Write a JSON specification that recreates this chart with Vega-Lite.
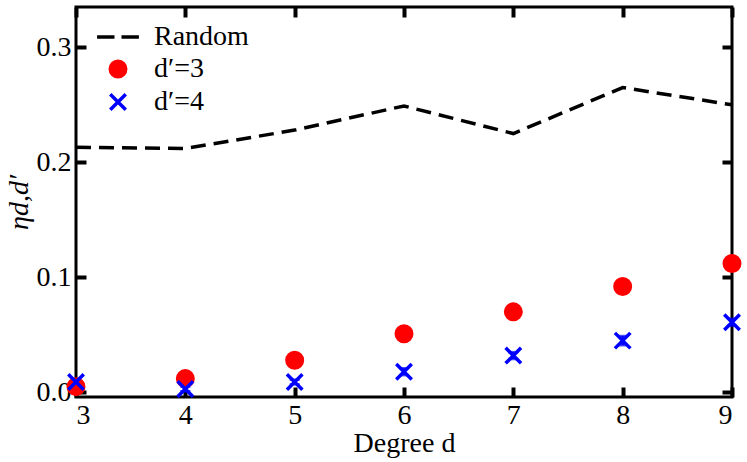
{
  "$schema": "https://vega.github.io/schema/vega-lite/v6.json",
  "width": 656,
  "height": 390,
  "autosize": {"type": "none"},
  "padding": {"left": 76, "top": 7, "right": 15, "bottom": 65},
  "background": "white",
  "config": {
    "view": {"stroke": "black", "strokeWidth": 3},
    "axis": {
      "grid": false,
      "domainColor": "transparent",
      "tickColor": "#000000",
      "tickWidth": 4,
      "labelFont": "Liberation Serif",
      "labelFontSize": 28,
      "labelColor": "black",
      "titleFont": "Liberation Serif",
      "titleFontSize": 28,
      "titleFontWeight": "normal",
      "titleColor": "black"
    },
    "legend": {
      "title": null,
      "orient": "none",
      "legendX": 28,
      "legendY": 16,
      "labelFont": "Liberation Serif",
      "labelFontSize": 28,
      "labelColor": "black",
      "labelOffset": 22,
      "rowPadding": 3,
      "symbolSize": 240,
      "symbolStrokeWidth": 3.5
    }
  },
  "data": {
    "values": [
      {"d": 3, "series": "Random", "eta": 0.213},
      {"d": 4, "series": "Random", "eta": 0.212},
      {"d": 5, "series": "Random", "eta": 0.228},
      {"d": 6, "series": "Random", "eta": 0.249},
      {"d": 7, "series": "Random", "eta": 0.225},
      {"d": 8, "series": "Random", "eta": 0.265},
      {"d": 9, "series": "Random", "eta": 0.25},
      {"d": 3, "series": "d′=3", "eta": 0.005, "lo": 0.003, "hi": 0.007},
      {"d": 4, "series": "d′=3", "eta": 0.012, "lo": 0.01, "hi": 0.014},
      {"d": 5, "series": "d′=3", "eta": 0.028, "lo": 0.026, "hi": 0.03},
      {"d": 6, "series": "d′=3", "eta": 0.051, "lo": 0.045, "hi": 0.054},
      {"d": 7, "series": "d′=3", "eta": 0.07, "lo": 0.067, "hi": 0.073},
      {"d": 8, "series": "d′=3", "eta": 0.092, "lo": 0.089, "hi": 0.095},
      {"d": 9, "series": "d′=3", "eta": 0.112, "lo": 0.109, "hi": 0.115},
      {"d": 3, "series": "d′=4", "eta": 0.009, "lo": 0.007, "hi": 0.011},
      {"d": 4, "series": "d′=4", "eta": 0.003, "lo": 0.001, "hi": 0.005},
      {"d": 5, "series": "d′=4", "eta": 0.009, "lo": 0.007, "hi": 0.011},
      {"d": 6, "series": "d′=4", "eta": 0.018, "lo": 0.015, "hi": 0.021},
      {"d": 7, "series": "d′=4", "eta": 0.032, "lo": 0.029, "hi": 0.035},
      {"d": 8, "series": "d′=4", "eta": 0.045, "lo": 0.041, "hi": 0.049},
      {"d": 9, "series": "d′=4", "eta": 0.061, "lo": 0.058, "hi": 0.064}
    ]
  },
  "layer": [
    {
      "transform": [{"filter": "datum.series === 'Random'"}],
      "mark": {"type": "line", "color": "black", "strokeWidth": 3.5, "strokeDash": [15, 8]},
      "encoding": {
        "x": {
          "field": "d", "type": "quantitative",
          "scale": {"domain": [3, 9], "nice": false, "zero": false},
          "axis": {"orient": "top", "labels": false, "title": null, "values": [3, 4, 5, 6, 7, 8, 9], "offset": -10, "tickSize": 10}
        },
        "y": {
          "field": "eta", "type": "quantitative",
          "scale": {"domain": [-0.004, 0.335], "nice": false, "zero": false},
          "axis": {"orient": "right", "labels": false, "title": null, "values": [0, 0.1, 0.2, 0.3], "offset": -10, "tickSize": 10}
        }
      }
    },
    {
      "transform": [{"filter": "datum.series !== 'Random'"}],
      "mark": {"type": "errorbar", "ticks": {"size": 10}, "thickness": 2.5},
      "encoding": {
        "x": {"field": "d", "type": "quantitative", "axis": null},
        "y": {"field": "lo", "type": "quantitative", "axis": null},
        "y2": {"field": "hi"},
        "color": {
          "field": "series", "type": "nominal", "legend": null,
          "scale": {"domain": ["d′=3", "d′=4"], "range": ["#ff0000", "#0000ff"]}
        }
      }
    },
    {
      "transform": [{"filter": "datum.series !== 'Random'"}],
      "mark": {"type": "point", "size": 240, "strokeWidth": 3.5, "opacity": 1},
      "encoding": {
        "x": {
          "field": "d", "type": "quantitative",
          "axis": {"orient": "bottom", "title": "Degree d", "values": [3, 4, 5, 6, 7, 8, 9], "offset": -10, "tickSize": 10, "labelPadding": 4, "titlePadding": 0}
        },
        "y": {
          "field": "eta", "type": "quantitative",
          "axis": {"orient": "left", "title": "ηd,d′", "titleFontStyle": "italic", "values": [0, 0.1, 0.2, 0.3], "format": ".1f", "offset": -10, "tickSize": 10, "labelPadding": 5, "titlePadding": 3}
        },
        "shape": {
          "field": "series", "type": "nominal",
          "scale": {
            "domain": ["Random", "d′=3", "d′=4"],
            "range": ["M-2.7,0H-0.45M0.45,0H2.7", "circle", "M-1,-1L1,1M1,-1L-1,1"]
          }
        },
        "fill": {
          "field": "series", "type": "nominal",
          "scale": {"domain": ["Random", "d′=3", "d′=4"], "range": ["black", "#ff0000", "#0000ff"]}
        },
        "stroke": {
          "field": "series", "type": "nominal",
          "scale": {"domain": ["Random", "d′=3", "d′=4"], "range": ["black", "#ff0000", "#0000ff"]}
        }
      }
    }
  ],
  "resolve": {"axis": {"x": "independent", "y": "independent"}}
}
